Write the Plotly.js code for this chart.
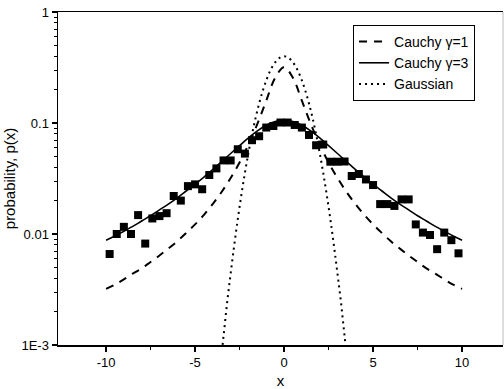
<!DOCTYPE html>
<html>
<head>
<meta charset="utf-8">
<script src="https://cdn.plot.ly/plotly-3.0.1.min.js"></script>
<style>html,body{margin:0;padding:0;background:#fff;}#chart{width:504px;height:389px;}</style>
</head>
<body>
<div id="chart"></div>
<script>
// Curve grid
const curveX = [-10,-9.5,-9,-8.5,-8,-7.5,-7,-6.5,-6,-5.5,-5,-4.5,-4,-3.5,-3,-2.5,-2,-1.5,-1,-0.5,0,0.5,1,1.5,2,2.5,3,3.5,4,4.5,5,5.5,6,6.5,7,7.5,8,8.5,9,9.5,10];
const cauchy1 = [0.0032,0.0035,0.0039,0.0044,0.0049,0.0056,0.0064,0.0074,0.0086,0.0102,0.0122,0.0149,0.0187,0.024,0.032,0.044,0.064,0.098,0.159,0.255,0.318,0.255,0.159,0.098,0.064,0.044,0.032,0.024,0.0187,0.0149,0.0122,0.0102,0.0086,0.0074,0.0064,0.0056,0.0049,0.0044,0.0039,0.0035,0.0032];
const cauchy3 = [0.0088,0.0096,0.0106,0.0117,0.0131,0.0146,0.0165,0.0186,0.0212,0.0244,0.0281,0.0326,0.0382,0.045,0.0531,0.0626,0.0735,0.0849,0.0955,0.103,0.106,0.103,0.0955,0.0849,0.0735,0.0626,0.0531,0.045,0.0382,0.0326,0.0281,0.0244,0.0212,0.0186,0.0165,0.0146,0.0131,0.0117,0.0106,0.0096,0.0088];
const gaussX = [-3.6,-3.4,-3.2,-3,-2.8,-2.6,-2.4,-2.2,-2,-1.8,-1.6,-1.4,-1.2,-1,-0.8,-0.6,-0.4,-0.2,0,0.2,0.4,0.6,0.8,1,1.2,1.4,1.6,1.8,2,2.2,2.4,2.6,2.8,3,3.2,3.4,3.6];
const gauss = [0.00061,0.0012,0.0024,0.0044,0.0079,0.0136,0.0224,0.0355,0.054,0.079,0.111,0.150,0.194,0.242,0.290,0.333,0.368,0.391,0.399,0.391,0.368,0.333,0.290,0.242,0.194,0.150,0.111,0.079,0.054,0.0355,0.0224,0.0136,0.0079,0.0044,0.0024,0.0012,0.00061];
// Measured data points
const dataX = [-9.8,-9.4,-9.0,-8.6,-8.2,-7.8,-7.4,-7.0,-6.6,-6.2,-5.8,-5.4,-5.0,-4.6,-4.2,-3.8,-3.4,-3.0,-2.6,-2.2,-1.8,-1.4,-1.0,-0.6,-0.2,0.2,0.6,1.0,1.4,1.8,2.2,2.6,3.0,3.4,3.8,4.2,4.6,5.0,5.4,5.8,6.2,6.6,7.0,7.4,7.8,8.2,8.6,9.0,9.4,9.8];
const dataY = [0.0066,0.0100,0.0116,0.0100,0.0148,0.0082,0.0138,0.0145,0.0154,0.022,0.020,0.027,0.028,0.0253,0.034,0.039,0.046,0.046,0.058,0.053,0.070,0.076,0.091,0.094,0.101,0.101,0.096,0.091,0.078,0.063,0.064,0.0448,0.0448,0.045,0.0333,0.0347,0.031,0.0276,0.0186,0.0186,0.0179,0.0205,0.0205,0.0122,0.0103,0.0098,0.0073,0.0103,0.0088,0.0067];
const legendNames = ['Cauchy γ=1','Cauchy γ=3','Gaussian'];
const yTickVals = [0.001,0.01,0.1,1];
const yTickText = ['1E-3','0.01','0.1','1'];
const xTickVals = [-10,-5,0,5,10];

const minorY = [];
for (let d = -3; d < 0; d++) for (let k = 2; k <= 9; k++) minorY.push(k * Math.pow(10, d));

const traces = [
  {x: curveX, y: cauchy1, name: legendNames[0], mode: 'lines', line: {color: '#000', width: 2, dash: '8px,7px', shape: 'spline'}},
  {x: curveX, y: cauchy3, name: legendNames[1], mode: 'lines', line: {color: '#000', width: 1.6, shape: 'spline'}},
  {x: gaussX, y: gauss, name: legendNames[2], mode: 'lines', line: {color: '#000', width: 2, dash: '2px,4px', shape: 'spline'}},
  {x: dataX, y: dataY, mode: 'markers', showlegend: false, marker: {symbol: 'square', size: 8, color: '#000'}}
];

const font = {family: 'Liberation Sans, Arial, sans-serif', color: '#000'};
const layout = {
  width: 504, height: 389,
  margin: {l: 58, r: 1, t: 12, b: 44},
  paper_bgcolor: '#fff', plot_bgcolor: '#fff',
  font: Object.assign({size: 13}, font),
  showlegend: true,
  legend: {x: 0.663, y: 0.961, xanchor: 'left', yanchor: 'top', bgcolor: '#fff', bordercolor: '#000', borderwidth: 1, font: Object.assign({size: 14}, font), itemwidth: 30, tracegroupgap: 0},
  xaxis: {
    range: [-12.7, 12.3], showgrid: false, zeroline: false,
    showline: true, linecolor: '#000', linewidth: 1.5, mirror: true,
    ticks: 'outside', ticklen: 5, tickwidth: 1.5, tickcolor: '#000',
    tickvals: xTickVals, ticktext: xTickVals.map(String),
    tickfont: Object.assign({size: 13}, font),
    minor: {tickvals: [-7.5,-2.5,2.5,7.5], ticks: 'outside', ticklen: 3, tickwidth: 1, tickcolor: '#000'},
    title: {text: 'x', font: Object.assign({size: 15}, font), standoff: 6}
  },
  yaxis: {
    type: 'log', range: [-3, 0], showgrid: false, zeroline: false,
    showline: true, linecolor: '#000', linewidth: 1.5,
    ticks: 'outside', ticklen: 5, tickwidth: 1.5, tickcolor: '#000',
    tickvals: yTickVals, ticktext: yTickText,
    tickfont: Object.assign({size: 13}, font),
    minor: {tickvals: minorY, ticks: 'outside', ticklen: 3, tickwidth: 1, tickcolor: '#000'},
    title: {text: 'probability, p(x)', font: Object.assign({size: 15}, font), standoff: 2}
  },
  shapes: [{type: 'line', xref: 'paper', yref: 'paper', x0: 1, x1: 1, y0: 0, y1: 1, line: {color: '#bbb', width: 1}}]
};

Plotly.newPlot('chart', traces, layout, {staticPlot: true, displayModeBar: false});
</script>
</body>
</html>
